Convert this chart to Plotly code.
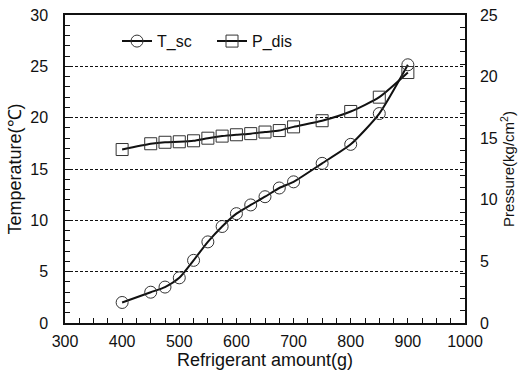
import plotly.graph_objects as go

amount = [400, 450, 475, 500, 525, 550, 575, 600, 625, 650, 675, 700, 750, 800, 850, 900]
t_sc = [2.0, 3.0, 3.5, 4.4, 6.1, 7.9, 9.4, 10.65, 11.5, 12.3, 13.15, 13.75, 15.55, 17.4, 20.4, 25.15]
p_dis = [14.08, 14.55, 14.67, 14.71, 14.79, 15.0, 15.17, 15.28, 15.37, 15.5, 15.62, 15.92, 16.42, 17.17, 18.33, 20.33]

FONT = "Liberation Sans"
INK = "#111111"

fig = go.Figure()
fig.add_trace(go.Scatter(
    x=amount, y=t_sc, name="T_sc", mode="lines+markers",
    line=dict(color=INK, width=2, shape="spline", smoothing=0.6),
    marker=dict(symbol="circle-open", size=12, color="#333333", line=dict(width=1)),
))
fig.add_trace(go.Scatter(
    x=amount, y=p_dis, name="P_dis", mode="lines+markers", yaxis="y2",
    line=dict(color=INK, width=2, shape="spline", smoothing=0.6),
    marker=dict(symbol="square-open", size=12, color="#333333", line=dict(width=1)),
))

axis_common = dict(
    showline=True, linecolor=INK, linewidth=1.5,
    ticks="inside", ticklen=5, tickcolor=INK, tickwidth=1,
    tickfont=dict(family=FONT, size=16, color=INK),
    zeroline=False, automargin=False,
)

fig.update_layout(
    width=518, height=373,
    margin=dict(l=65, r=53, t=15, b=50),
    paper_bgcolor="white", plot_bgcolor="white",
    font=dict(family=FONT, size=15, color=INK),
    showlegend=True,
    legend=dict(orientation="h", x=0.13, y=0.915, xanchor="left", yanchor="middle",
                bgcolor="rgba(0,0,0,0)", font=dict(family=FONT, size=16, color=INK),
                itemwidth=30, entrywidth=50),
    xaxis=dict(
        range=[300, 1000], dtick=100, tick0=300, mirror=True, showgrid=False,
        ticklabelstandoff=3,
        minor=dict(dtick=25, ticks="inside", ticklen=5, tickcolor=INK),
        title=dict(text="Refrigerant amount(g)", font=dict(family=FONT, size=18, color=INK), standoff=2),
        **axis_common,
    ),
    yaxis=dict(
        range=[0, 30], dtick=5, showgrid=True, gridcolor=INK, gridwidth=1, griddash="3px,2px",
        ticklabelstandoff=12,
        minor=dict(dtick=1, ticks="inside", ticklen=5, tickcolor=INK),
        title=dict(text="Temperature(℃)", font=dict(family=FONT, size=18, color=INK), standoff=4),
        **axis_common,
    ),
    yaxis2=dict(
        range=[0, 25], dtick=5, overlaying="y", side="right", showgrid=False,
        ticklabelstandoff=10,
        minor=dict(dtick=1, ticks="inside", ticklen=5, tickcolor=INK),
        title=dict(text="Pressure(kg/cm<sup>2</sup>)", font=dict(family=FONT, size=15, color=INK), standoff=6),
        **axis_common,
    ),
)

fig.write_html("out.html")
